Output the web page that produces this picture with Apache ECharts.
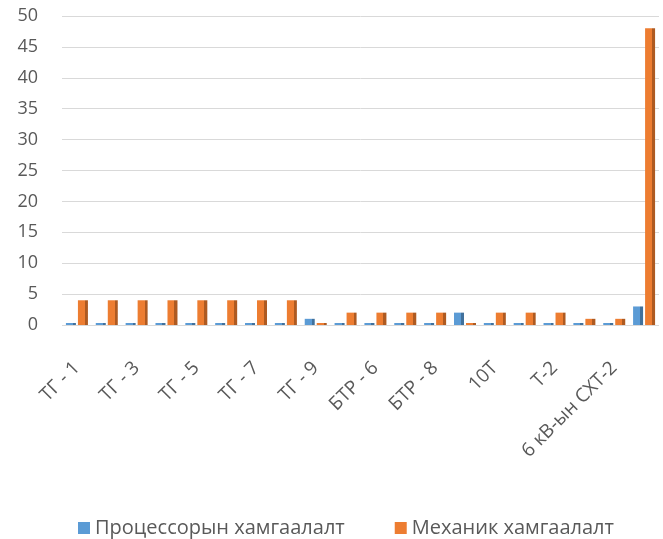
<!DOCTYPE html>
<html>
<head>
<meta charset="utf-8">
<script src="https://cdn.jsdelivr.net/npm/echarts@6/dist/echarts.min.js"></script>
<style>
html,body{margin:0;padding:0;background:#fff;}
#chart{width:663px;height:539px;}
</style>
</head>
<body>
<div id="chart"></div>
<script>
//ангилал (нэг бүрээр нь, шошгыг хоёр тутамд харуулна)
var categories = ['ТГ - 1','ТГ - 2','ТГ - 3','ТГ - 4','ТГ - 5','ТГ - 6','ТГ - 7','ТГ - 8','ТГ - 9','БТР - 5',
	'БТР - 6','БТР - 7','БТР - 8','БТР - 9','10Т','11Т','Т-2','Т-3','6 кВ-ын СХТ-2','6 кВ-ын СХТ-1'];
var seriesNames = ['Процессорын хамгаалалт','Механик хамгаалалт'];
var seriesColors = ['#5B9BD5','#ED7D31'];
var processorValues = [0,0,0,0,0,0,0,0,1,0,0,0,0,2,0,0,0,0,0,3];
var mechanicValues = [4,4,4,4,4,4,4,4,0,2,2,2,2,0,2,2,2,1,1,48];
var yTicks = {min: 0, max: 50, interval: 5};

//3D маягийн өнгө
function side_color(face, side)
{
	return new echarts.graphic.LinearGradient(0, 0, 1, 0, [
		{offset: 0, color: face},
		{offset: 0.7, color: face},
		{offset: 0.7, color: side},
		{offset: 1, color: side}
	]);
}

var myChart = echarts.init(document.getElementById('chart'));
var font = 'Open Sans';
var option = {
	animation: false,
	textStyle: {fontFamily: font},
	grid: {left: 62, right: 4, top: 16, bottom: 214},
	legend: {
		top: 513,
		left: 73,
		itemGap: 50,
		icon: 'rect',
		itemWidth: 12,
		itemHeight: 12,
		textStyle: {color: '#595959', fontSize: 20, fontFamily: font},
		data: [
			{name: seriesNames[0], itemStyle: {color: seriesColors[0]}},
			{name: seriesNames[1], itemStyle: {color: seriesColors[1]}}
		]
	},
	xAxis: {
		type: 'category',
		data: categories,
		axisLine: {show: false},
		axisTick: {show: false},
		axisLabel: {interval: 1, rotate: 45, color: '#595959', fontSize: 19, margin: 40}
	},
	yAxis: {
		type: 'value',
		min: yTicks.min,
		max: yTicks.max,
		interval: yTicks.interval,
		axisLabel: {color: '#595959', fontSize: 18, margin: 24},
		splitLine: {lineStyle: {color: '#d9d9d9', width: 1}}
	},
	series: [
		{
			name: seriesNames[0],
			type: 'bar',
			data: processorValues,
			barWidth: 10,
			barGap: '20%',
			barMinHeight: 2,
			itemStyle: {color: side_color(seriesColors[0], '#41719C')}
		},
		{
			name: seriesNames[1],
			type: 'bar',
			data: mechanicValues,
			barWidth: 10,
			barMinHeight: 2,
			itemStyle: {color: side_color(seriesColors[1], '#AE5A21')}
		}
	]
};
myChart.setOption(option);
</script>
</body>
</html>
